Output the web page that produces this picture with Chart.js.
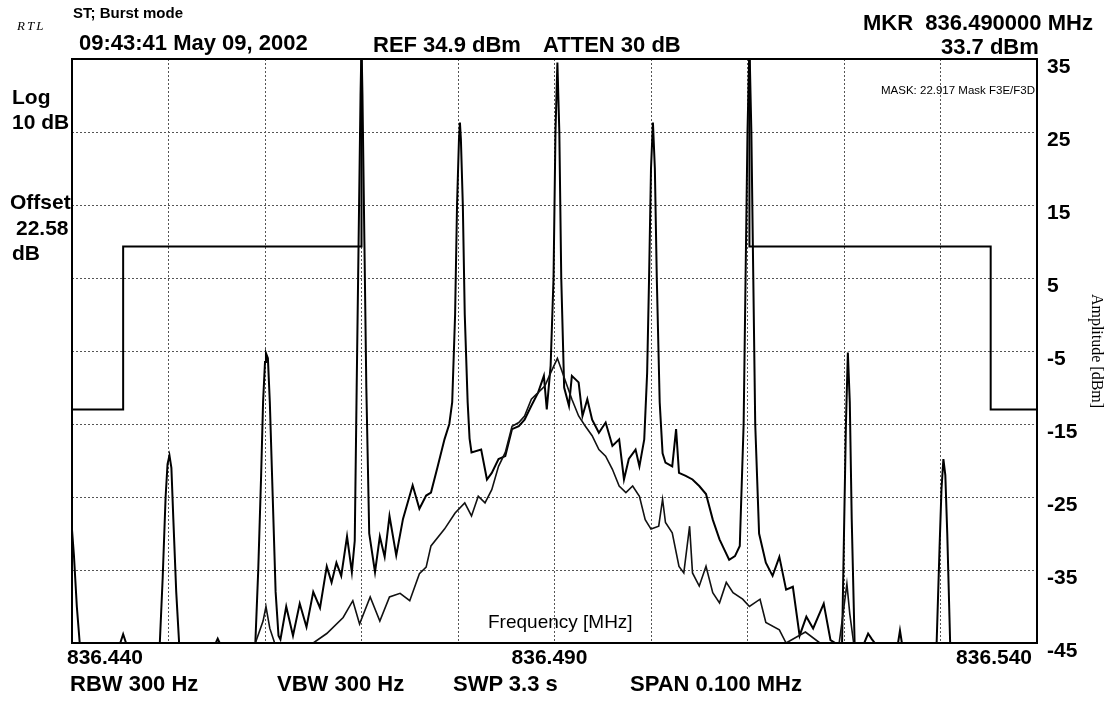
<!DOCTYPE html>
<html>
<head>
<meta charset="utf-8">
<script src="https://cdn.jsdelivr.net/npm/chart.js@4.4.0/dist/chart.umd.min.js"></script>
<style>
  body { margin: 0; background: #fff; }
  #wrap { position: relative; width: 1114px; height: 702px; }
  .t { position: absolute; font-family: "Liberation Sans", Arial, sans-serif; font-weight: bold;
       font-size: 22px; line-height: 1; white-space: pre; color: #000; }
</style>
</head>
<body>
<div id="wrap">
  <canvas id="chartSpectrum"></canvas>
  <div class="t" style="left:17px;top:18px;font:italic 13px 'Liberation Serif', serif;letter-spacing:2px;">RTL</div>
  <div class="t" style="left:73px;top:5px;font-size:15px;">ST; Burst mode</div>
  <div class="t" style="left:79px;top:32px;">09:43:41 May 09, 2002</div>
  <div class="t" style="left:373px;top:34px;">REF 34.9 dBm</div>
  <div class="t" style="left:543px;top:34px;">ATTEN 30 dB</div>
  <div class="t" style="left:863px;top:12px;">MKR  836.490000 MHz</div>
  <div class="t" style="left:941px;top:36px;">33.7 dBm</div>
  <div class="t" style="left:881px;top:85px;font-size:11.5px;font-weight:normal;">MASK: 22.917 Mask F3E/F3D</div>
  <div class="t" style="left:12px;top:86px;font-size:21px;">Log</div>
  <div class="t" style="left:12px;top:111px;font-size:21px;">10 dB</div>
  <div class="t" style="left:10px;top:191px;font-size:21px;">Offset</div>
  <div class="t" style="left:16px;top:217px;font-size:21px;">22.58</div>
  <div class="t" style="left:12px;top:242px;font-size:21px;">dB</div>
  <div class="t" style="left:488px;top:612px;font-size:19px;font-weight:normal;">Frequency [MHz]</div>
  <div class="t" style="left:70px;top:673px;">RBW 300 Hz</div>
  <div class="t" style="left:277px;top:673px;">VBW 300 Hz</div>
  <div class="t" style="left:453px;top:673px;">SWP 3.3 s</div>
  <div class="t" style="left:630px;top:673px;">SPAN 0.100 MHz</div>
</div>
<script>
// frequency axis (MHz) and level axis (dBm)
const freqMin = 836.44;
const freqMax = 836.54;
const freqLabels = [836.44, 836.49, 836.54];
const levelMin = -45;
const levelMax = 35;

// spectral lines trace [MHz, dBm]
const traceLines = [
  [836.4400,-29.5],[836.4402,-33],[836.4405,-40],[836.4408,-45],
  [836.4450,-45],[836.4453,-43.8],[836.4456,-45],
  [836.4491,-45],[836.4494,-36],[836.4497,-25],[836.4499,-20.5],[836.4501,-19.3],[836.4503,-21],[836.4505,-28],[836.4508,-38],[836.4511,-45],
  [836.4549,-45],[836.4551,-44.4],[836.4553,-45],
  [836.4590,-45],[836.4593,-35],[836.4596,-22],[836.4598,-12],[836.4600,-6.5],[836.4601,-5.3],[836.4603,-6],[836.4605,-12],[836.4608,-25],[836.4611,-38],[836.4614,-44],
  [836.4616,-44.5],[836.4622,-40],[836.4629,-44],[836.4636,-39.6],[836.4643,-42.8],[836.4650,-38],[836.4657,-40.2],[836.4664,-34.5],[836.4669,-36.7],[836.4674,-34],[836.4679,-35.8],[836.4685,-30.4],[836.4690,-35.3],[836.4693,-31],
  [836.4695,-10],[836.4697,10],[836.4699,30],[836.4700,37],[836.4701,30],[836.4703,10],[836.4705,-10],[836.4708,-30],
  [836.4714,-35.3],[836.4719,-30.4],[836.4724,-33.2],[836.4729,-27.6],[836.4736,-33],[836.4743,-28],[836.4753,-23.4],[836.4760,-26.6],[836.4767,-24.8],[836.4772,-24.4],[836.4779,-20.8],[836.4786,-17.1],[836.4791,-15],
  [836.4794,-12],[836.4797,0],[836.4799,15],[836.4801,24],[836.4802,26.3],[836.4803,24],[836.4805,15],[836.4807,0],[836.4810,-12],[836.4812,-17],
  [836.4814,-18.9],[836.4824,-18.5],[836.4830,-22.6],[836.4835,-21.7],[836.4842,-19.8],[836.4849,-19.4],[836.4856,-15.7],[836.4863,-15.3],[836.4869,-14.4],[836.4876,-12.5],[836.4883,-10.7],[836.4889,-8.4],[836.4892,-13],[836.4896,-7],
  [836.4899,5],[836.4901,25],[836.4903,34.5],[836.4905,25],[836.4907,5],[836.4910,-10],
  [836.4915,-12.5],[836.4918,-8.4],[836.4925,-9.3],[836.4929,-13.9],[836.4934,-11.6],[836.4939,-14.4],[836.4946,-16.2],[836.4953,-14.8],[836.4960,-18],[836.4967,-17.1],[836.4972,-22.6],[836.4977,-19.8],[836.4984,-18.5],[836.4988,-20.8],[836.4993,-17.1],
  [836.4996,-8],[836.4998,5],[836.5000,20],[836.5002,26.3],[836.5004,20],[836.5006,5],[836.5009,-12],[836.5012,-19],
  [836.5015,-20.3],[836.5022,-20.8],[836.5026,-15.7],[836.5029,-21.7],[836.5036,-22.1],[836.5043,-22.6],[836.5050,-23.5],[836.5057,-24.6],[836.5064,-28.1],[836.5071,-30.8],[836.5076,-32.2],[836.5081,-33.6],[836.5087,-33.1],[836.5092,-31.7],
  [836.5096,-15],[836.5098,5],[836.5100,25],[836.5102,37],[836.5104,25],[836.5106,5],[836.5108,-15],[836.5112,-30],
  [836.5119,-34],[836.5126,-35.8],[836.5133,-33.2],[836.5140,-37.7],[836.5147,-37.3],[836.5154,-44],[836.5161,-41.4],[836.5168,-43],[836.5179,-39.6],[836.5186,-44.6],[836.5191,-45],
  [836.5198,-45],[836.5200,-30],[836.5202,-15],[836.5204,-5.2],[836.5206,-12],[836.5208,-28],[836.5211,-45],
  [836.5221,-45],[836.5225,-43.7],[836.5229,-44.5],[836.5232,-45],[836.5256,-45],[836.5258,-43.3],[836.5260,-45],
  [836.5296,-45],[836.5299,-32],[836.5301,-24],[836.5303,-19.8],[836.5305,-22],[836.5307,-30],[836.5310,-45],
  [836.5400,-45]
];

// broad noise trace [MHz, dBm]
const traceNoise = [
  [836.4400,-45],[836.4590,-45],[836.4598,-42],[836.4601,-40],[836.4605,-43],[836.4610,-45],[836.4650,-45],
  [836.4664,-43.7],[836.4681,-41.5],[836.4691,-39.2],[836.4698,-42.4],[836.4709,-38.7],[836.4719,-42],[836.4729,-38.7],[836.4740,-38.2],[836.4750,-39.2],[836.4760,-35.5],[836.4767,-34.6],
  [836.4772,-31.7],[836.4786,-29.4],[836.4797,-27.2],[836.4807,-25.8],[836.4814,-27.6],[836.4821,-24.9],[836.4828,-25.8],[836.4835,-24],[836.4842,-20.8],[836.4849,-18.9],[836.4856,-15.3],[836.4863,-14.8],[836.4869,-13.9],[836.4876,-11.6],[836.4883,-10.7],[836.4890,-9.8],[836.4896,-8],[836.4903,-6],
  [836.4918,-11.6],[836.4925,-13.9],[836.4932,-15.3],[836.4939,-16.6],[836.4946,-18.5],[836.4953,-19.4],[836.4960,-21.2],[836.4967,-23.5],[836.4974,-24.4],[836.4981,-23.5],[836.4988,-24.9],[836.4994,-28.1],
  [836.5000,-29.4],[836.5008,-29],[836.5012,-25.3],[836.5015,-28.5],[836.5022,-29.9],[836.5029,-34.5],[836.5034,-35.4],[836.5040,-29],[836.5043,-35.4],[836.5050,-37.2],[836.5057,-34.5],[836.5064,-38.1],[836.5071,-39.5],[836.5078,-36.7],[836.5085,-38.1],[836.5095,-39],
  [836.5102,-40],[836.5113,-39],[836.5119,-42.2],[836.5133,-43.2],[836.5140,-45],[836.5160,-43.5],[836.5175,-45],
  [836.5195,-45],[836.5200,-40],[836.5203,-36.9],[836.5206,-41],[836.5210,-45],[836.5400,-45]
];

// emission mask F3E/F3D [MHz, dBm]
const maskLine = [
  [836.4400,-13],[836.4453,-13],[836.4453,9.3],[836.4700,9.3],[836.4700,60],
  [836.5102,60],[836.5102,9.3],[836.5352,9.3],[836.5352,-13],[836.5400,-13]
];

const sansFont = '"Liberation Sans", Arial, sans-serif';
const toPoints = arr => arr.map(p => ({ x: p[0], y: p[1] }));

const frame = {
  id: "frame",
  afterDraw(chart) {
    const a = chart.chartArea;
    const ctx = chart.ctx;
    ctx.save();
    ctx.strokeStyle = "#000";
    ctx.lineWidth = 2;
    ctx.strokeRect(a.left, a.top, a.right - a.left, a.bottom - a.top);
    ctx.restore();
  }
};

const dataSpectrum = {
  datasets: [
    { label: "Mask", data: toPoints(maskLine), borderColor: "#000", borderWidth: 2 },
    { label: "Noise", data: toPoints(traceNoise), borderColor: "#111", borderWidth: 1.6 },
    { label: "Trace", data: toPoints(traceLines), borderColor: "#000", borderWidth: 2 },
  ],
};

const configSpectrum = {
  type: "line",
  data: dataSpectrum,
  options: {
    responsive: true,
    maintainAspectRatio: false,
    animation: false,
    elements: { point: { radius: 0 }, line: { tension: 0 } },
    layout: { padding: { top: 59, left: 72, right: 0, bottom: 0 } },
    plugins: { legend: { display: false }, tooltip: { enabled: false } },
    scales: {
      x: {
        type: "linear",
        min: freqMin,
        max: freqMax,
        afterFit: s => { s.height = 59; },
        grid: { color: "#555", lineWidth: 1, drawTicks: false },
        border: { color: "#000", width: 2, dash: [2, 2] },
        ticks: {
          stepSize: 0.01,
          autoSkip: false,
          maxRotation: 0,
          align: "inner",
          labelOffset: -5,
          padding: 3,
          color: "#000",
          font: { family: sansFont, size: 21, weight: "bold" },
          callback: v => freqLabels.some(f => Math.abs(f - v) < 1e-6) ? v.toFixed(3) : "",
        },
      },
      y: {
        position: "right",
        min: levelMin,
        max: levelMax,
        afterFit: s => { s.width = 77; },
        grid: { color: "#555", lineWidth: 1, drawTicks: false },
        border: { color: "#000", width: 2, dash: [2, 2] },
        ticks: {
          stepSize: 10,
          padding: 10,
          labelOffset: 8,
          color: "#000",
          font: { family: sansFont, size: 21, weight: "bold" },
        },
        title: {
          display: true,
          text: "Amplitude [dBm]",
          color: "#000",
          font: { family: '"Liberation Serif", "Times New Roman", serif', size: 16 },
          padding: { top: 8, bottom: 0 },
        },
      },
    },
  },
  plugins: [frame],
};

var chartSpectrum = new Chart(document.getElementById("chartSpectrum"), configSpectrum);
</script>
</body>
</html>
